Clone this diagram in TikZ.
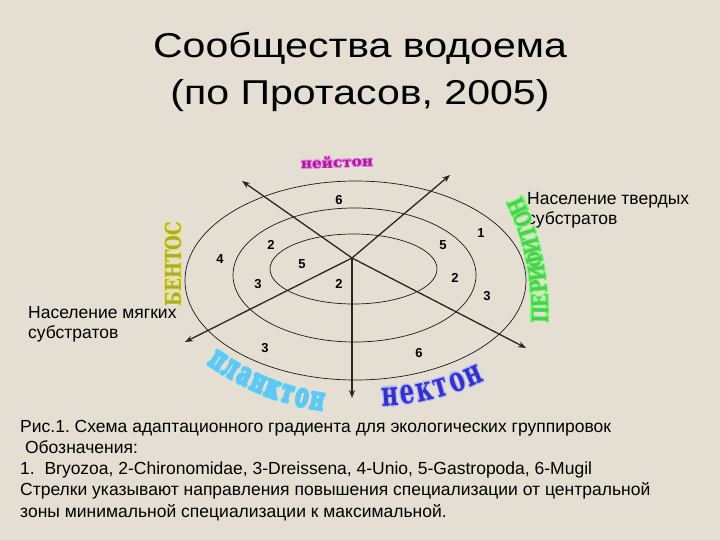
\documentclass[tikz,border=0pt]{standalone}
\usepackage{fontspec}
\setmainfont{Liberation Sans}
\newfontfamily\wafont{DejaVu Serif}
\usetikzlibrary{arrows.meta,calc}
\frenchspacing
\definecolor{bg}{RGB}{228,223,210}
\definecolor{purplec}{RGB}{160,30,150}
\definecolor{pinkc}{RGB}{240,130,230}
\definecolor{oliv}{RGB}{170,170,50}
\definecolor{yel}{RGB}{235,230,110}
\definecolor{grn}{RGB}{80,205,80}
\definecolor{lgrn}{RGB}{120,255,120}
\definecolor{skyb}{RGB}{105,195,240}
\definecolor{cyanl}{RGB}{80,210,255}
\definecolor{blu}{RGB}{50,50,200}
\definecolor{lblu}{RGB}{180,180,255}
\newcommand\glow[3]{\leavevmode
 \rlap{\color{#1}\kern0.9pt#3}\rlap{\color{#1}\kern-0.9pt#3}%
 \rlap{\color{#1}\raisebox{0.9pt}{#3}}\rlap{\color{#1}\raisebox{-0.9pt}{#3}}%
 \rlap{\color{#1}\kern0.65pt\raisebox{0.65pt}{#3}}\rlap{\color{#1}\kern-0.65pt\raisebox{0.65pt}{#3}}%
 \rlap{\color{#1}\kern0.65pt\raisebox{-0.65pt}{#3}}\rlap{\color{#1}\kern-0.65pt\raisebox{-0.65pt}{#3}}%
 {\color{#2}#3}}
% #1 name prefix, #2 center, #3 radius, #4 start angle, #5 step, #6 font size, #7 yscale, #8 outline, #9 fill, then letters
\newcommand\arcword[9]{\def\awA{#1}\def\awB{#2}\def\awC{#3}\def\awD{#4}\def\awE{#5}\def\awF{#6}\def\awG{#7}\def\awH{#8}\def\awI{#9}\arcwordC}
\newcommand\arcwordC[1]{%
 \foreach \ch [count=\i from 0] in {#1} {
   \pgfmathsetmacro\ang{\awD+\i*\awE}
   \node[inner sep=0pt, rotate=\ang+90, font=\wafont\bfseries\fontsize{\awF}{\awF}\selectfont]
     (\awA\i) at ($(\awB)+(\ang:\awC)$) {\scalebox{1}[\awG]{\glow{\awH}{\awI}{\vphantom{Ф}\ch}}};
 }}
\tikzset{
 arr/.style={draw=black!85, line width=1.3pt, -{Stealth[length=8pt,width=6pt]}},
 ring/.style={draw=black!90, line width=0.7pt},
 num/.style={inner sep=0pt, font=\bfseries\fontsize{13}{13}\selectfont},
 lbl/.style={inner sep=0pt, anchor=base west, font=\fontsize{17.5}{20}\selectfont},
 captxt/.style={inner sep=0pt, anchor=base west, font=\fontsize{17.5}{20}\selectfont},
 ttl/.style={inner sep=0pt, anchor=base, font=\fontsize{34.5}{40}\selectfont}
}
\begin{document}
\begin{tikzpicture}[x=1pt,y=1pt]
\fill[bg] (0,0) rectangle (720,-540);
\useasboundingbox (0,0) rectangle (720,-540);
% title
\node[ttl] (t1) at (360,-58) {\scalebox{1.19}[1]{Сообщества водоема}};
\node[ttl] (t2) at (360,-105) {\scalebox{1.19}[1]{(по Протасов, 2005)}};
% ellipses
\draw[ring] (355.5,-280.5) ellipse [x radius=170.5, y radius=99.5];
\draw[ring] (354.5,-275) ellipse [x radius=121.5, y radius=67];
\draw[ring] (353.5,-269) ellipse [x radius=83.5, y radius=35];
% arrows
\coordinate (ctr) at (352,-258);
\coordinate (nw) at (242,-181);
\coordinate (ne) at (450,-175);
\coordinate (sw) at (185,-342);
\coordinate (se) at (526,-348);
\coordinate (so) at (352,-398);
\foreach \e in {nw,ne,sw,se,so} \draw[arr] (ctr) -- (\e);
% numbers
\node[num] (n1) at (339,-200) {6};
\node[num] (n2) at (481,-233) {1};
\node[num] (n3) at (271,-245) {2};
\node[num] (n4) at (443,-245) {5};
\node[num] (n5) at (220,-259) {4};
\node[num] (n6) at (302,-264) {5};
\node[num] (n7) at (258,-284) {3};
\node[num] (n8) at (339,-284) {2};
\node[num] (n9) at (455,-278) {2};
\node[num] (n10) at (487,-296) {3};
\node[num] (n11) at (265,-348) {3};
\node[num] (n12) at (419,-353) {6};
% labels
\node[lbl] (l1) at (527,-205) {Население твердых};
\node[lbl] (l2) at (527,-225) {субстратов};
\node[lbl] (l3) at (28,-318) {Население мягких};
\node[lbl] (l4) at (28,-338) {субстратов};
% word art
\node[inner sep=0pt, rotate=2, font=\wafont\bfseries\fontsize{16}{16}\selectfont] (w1) at (337,-162)
  {\resizebox{72pt}{12pt}{\glow{pinkc}{purplec}{нейстон}}};
\node[inner sep=0pt, rotate=90, font=\wafont\bfseries\fontsize{18}{18}\selectfont] (w2) at (173,-264)
  {\resizebox{84pt}{17pt}{\glow{yel}{oliv}{БЕНТОС}}};
\arcword{pf}{286,-310}{254}{-1}{3.125}{18}{1.25}{lgrn}{grn}{П,Е,Р,И,Ф,И,Т,О,Н}
\arcword{pl}{362.4,-147.2}{255}{236}{3.4286}{20}{1.6}{cyanl}{skyb}{п,л,а,н,к,т,о,н}
\arcword{nk}{372.9,-149.7}{244}{274}{4}{23}{1.5}{lblu}{blu}{н,е,к,т,о,н}
% caption
\node[captxt] (c1) at (20,-432) {Рис.1. Схема адаптационного градиента для экологических группировок};
\node[captxt] (c2) at (20,-453) {\ Обозначения:};
\node[captxt] (c3) at (20,-474) {1.\ \ Bryozoa, 2-Chironomidae, 3-Dreissena, 4-Unio, 5-Gastropoda, 6-Mugil};
\node[captxt] (c4) at (20,-495.5) {Стрелки указывают направления повышения специализации от центральной};
\node[captxt] (c5) at (20,-517) {зоны минимальной специализации к максимальной.};
\end{tikzpicture}
\end{document}
